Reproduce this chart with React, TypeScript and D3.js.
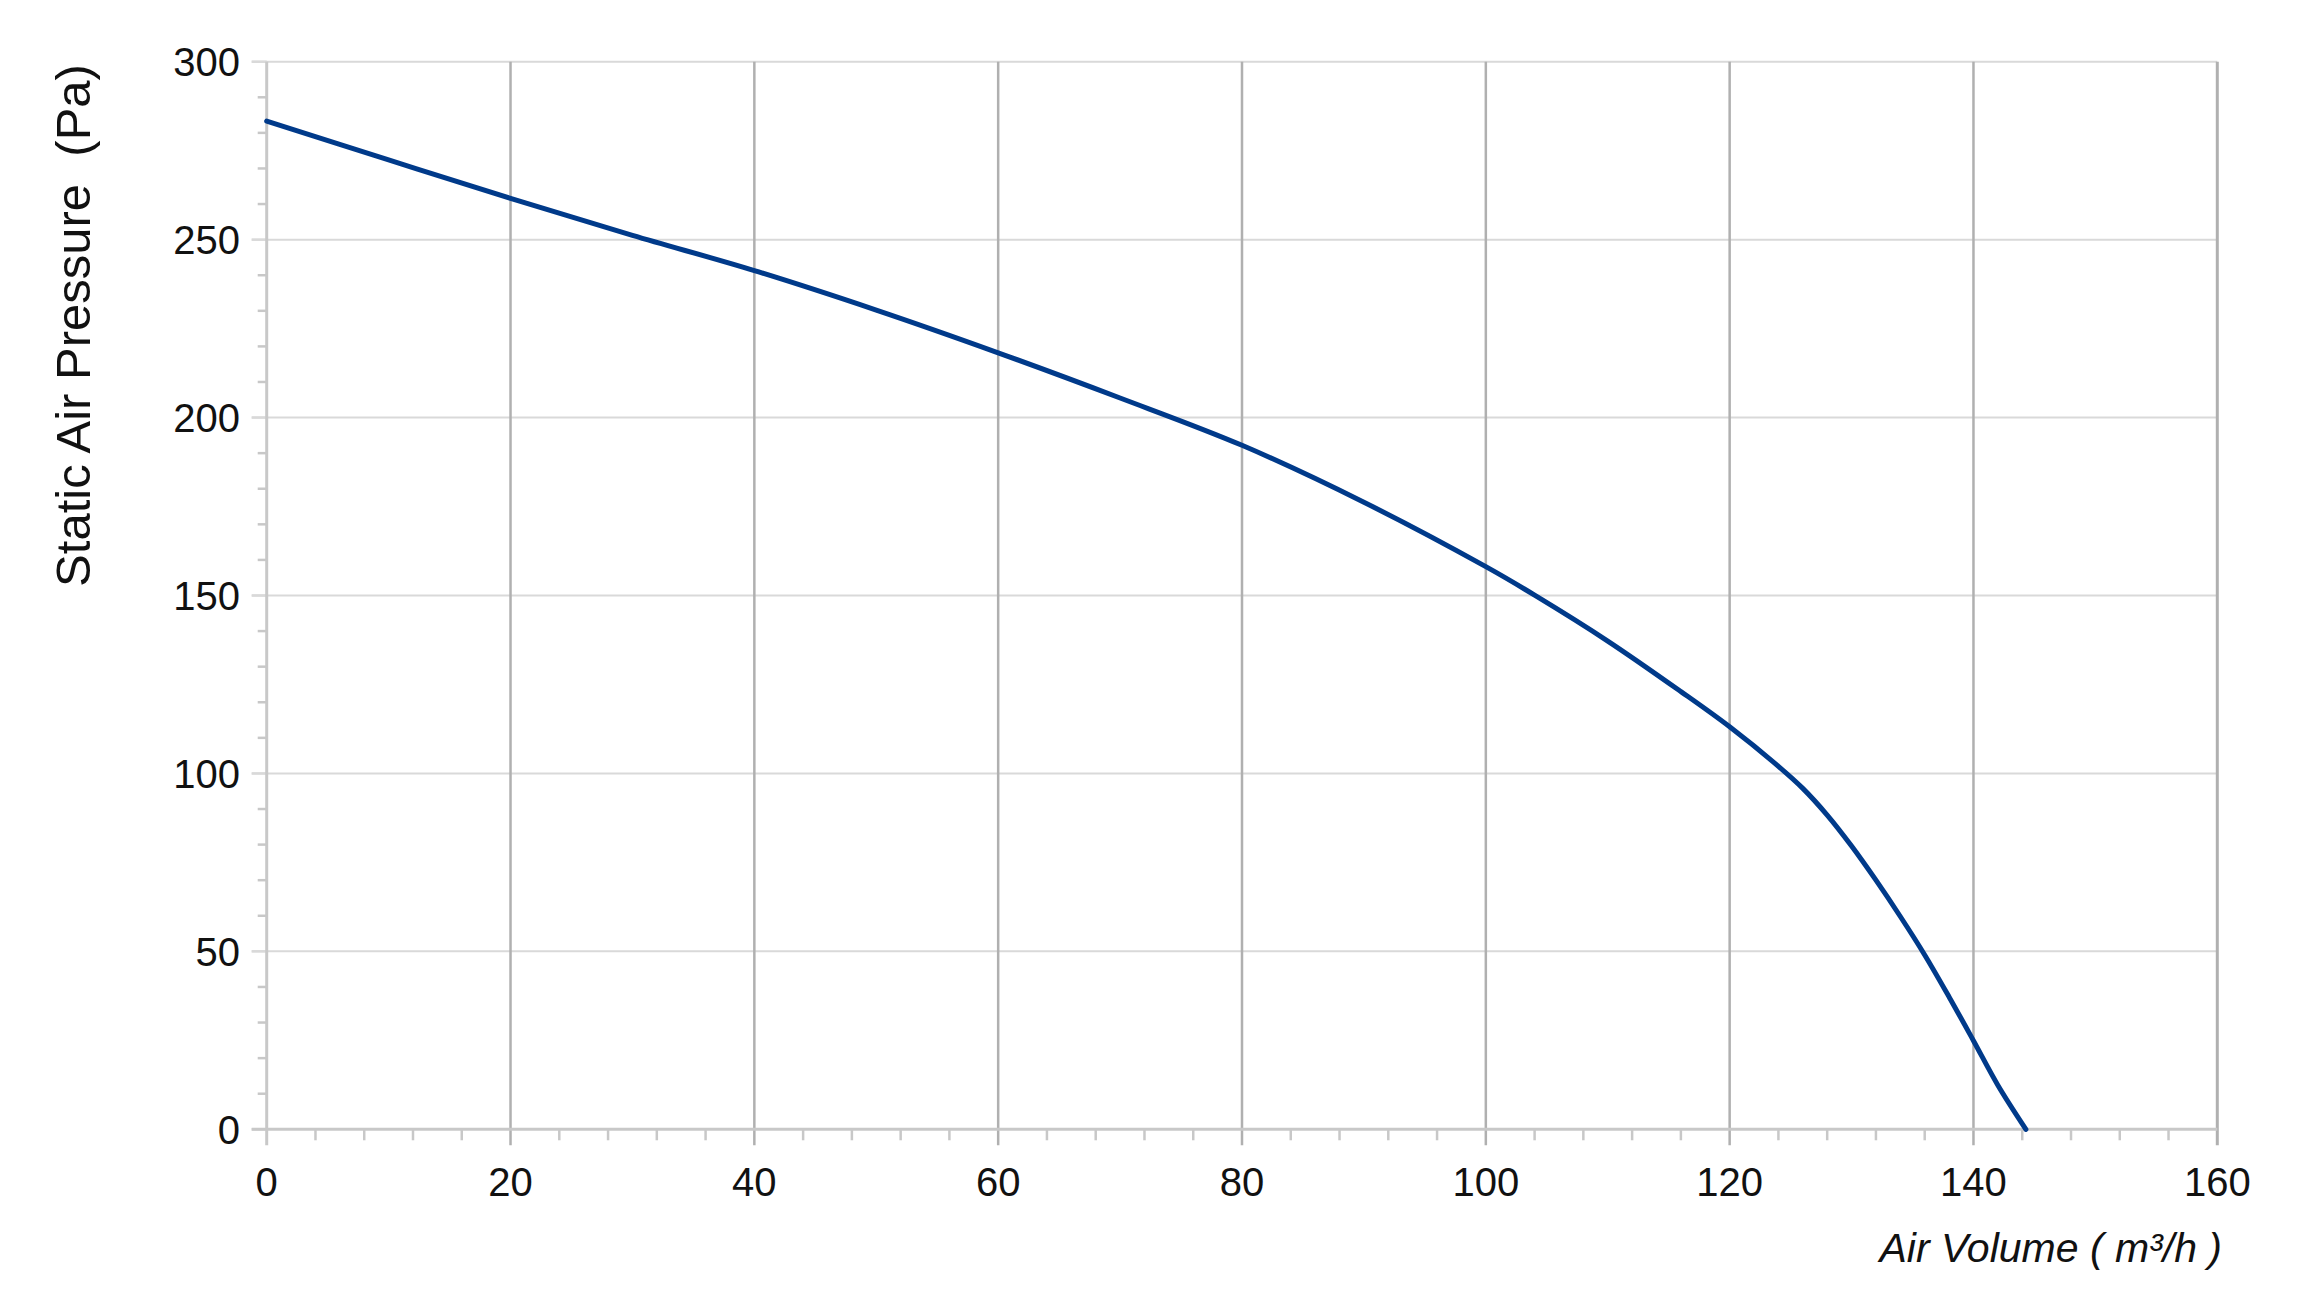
import React from "react";
import * as d3 from "d3";

// Data
const airVolume = [0, 10, 20, 30, 40, 50, 60, 70, 80, 90, 100, 104, 110, 116, 120, 124, 126, 128, 130, 132, 134, 136, 138, 140, 142, 144.3];
const pressure = [283.3, 272.4, 261.6, 251.2, 241.3, 230.2, 218.2, 205.5, 192.2, 176.2, 158.1, 150.1, 137.2, 123, 113.1, 102, 95.8, 88.3, 79.6, 70, 59.8, 49, 37.2, 24.9, 12.4, 0];

const xTicks = [0, 20, 40, 60, 80, 100, 120, 140, 160];
const yTicks = [0, 50, 100, 150, 200, 250, 300];
const xMinorStep = 4;
const yMinorStep = 10;

const xTitle = "Air Volume ( m³/h )";
const yTitle = "Static Air Pressure  (Pa)";

const W = 2309;
const H = 1313;
const left = 266.7;
const right = 2217.3;
const top = 61.7;
const bottom = 1129.3;
const FONT = "'Liberation Sans', Arial, Helvetica, sans-serif";

export default function App() {
  const x = d3.scaleLinear().domain([0, 160]).range([left, right]);
  const y = d3.scaleLinear().domain([0, 300]).range([bottom, top]);

  const xMinor = d3.range(0, 160 + 0.001, xMinorStep).filter((v) => !xTicks.includes(v));
  const yMinor = d3.range(0, 300 + 0.001, yMinorStep).filter((v) => !yTicks.includes(v));

  const pts: [number, number][] = airVolume.map((v, i) => [v, pressure[i]]);
  const line = d3
    .line<[number, number]>()
    .x((d) => x(d[0]))
    .y((d) => y(d[1]))
    .curve(d3.curveCatmullRom.alpha(0.5));

  const axisColor = "#c8c8c8";
  const hGrid = "#d9d9d9";
  const vGrid = "#b0b0b0";

  return (
    <svg
      width={W}
      height={H}
      style={{ position: "absolute", left: 0, top: 0, display: "block", background: "#fff" }}
    >
      <rect x={0} y={0} width={W} height={H} fill="#fff" />
      {yTicks.filter((t) => t !== 0).map((t) => (
        <line key={"hg" + t} x1={left - 15} x2={right} y1={y(t)} y2={y(t)} stroke={hGrid} strokeWidth={2} />
      ))}
      {xTicks.filter((t) => t !== 0).map((t) => (
        <line
          key={"vg" + t}
          x1={x(t)}
          x2={x(t)}
          y1={top}
          y2={bottom + 16}
          stroke={vGrid}
          strokeWidth={t === 160 ? 3 : 2.5}
        />
      ))}
      {yMinor.map((t) => (
        <line key={"ym" + t} x1={left - 9} x2={left} y1={y(t)} y2={y(t)} stroke={axisColor} strokeWidth={2.5} />
      ))}
      {xMinor.map((t) => (
        <line key={"xm" + t} x1={x(t)} x2={x(t)} y1={bottom} y2={bottom + 11} stroke={axisColor} strokeWidth={2.5} />
      ))}
      {yTicks.map((t) => (
        <line key={"yM" + t} x1={left - 15} x2={left} y1={y(t)} y2={y(t)} stroke={t === 0 ? axisColor : hGrid} strokeWidth={2.5} />
      ))}
      <line x1={left} x2={left} y1={top} y2={bottom + 16} stroke={axisColor} strokeWidth={3} />
      <line x1={left - 15} x2={right} y1={bottom} y2={bottom} stroke={axisColor} strokeWidth={3} />

      <path
        d={line(pts) || ""}
        fill="none"
        stroke="#003a8a"
        strokeWidth={5}
        strokeLinejoin="round"
        strokeLinecap="round"
      />

      {yTicks.map((t) => (
        <text
          key={"yl" + t}
          x={240}
          y={y(t) + 14.5}
          textAnchor="end"
          fontFamily={FONT}
          fontSize={40}
          fill="#111"
        >
          {t}
        </text>
      ))}
      {xTicks.map((t) => (
        <text
          key={"xl" + t}
          x={x(t)}
          y={1196}
          textAnchor="middle"
          fontFamily={FONT}
          fontSize={40}
          fill="#111"
        >
          {t}
        </text>
      ))}

      <text
        x={2222}
        y={1262}
        textAnchor="end"
        fontFamily={FONT}
        fontSize={41}
        fontStyle="italic"
        fill="#111"
      >
        {xTitle}
      </text>
      <text
        transform={`translate(90, 325.5) rotate(-90)`}
        textAnchor="middle"
        fontFamily={FONT}
        fontSize={49}
        fill="#111"
        style={{ whiteSpace: "pre" }}
      >
        {yTitle}
      </text>
    </svg>
  );
}
